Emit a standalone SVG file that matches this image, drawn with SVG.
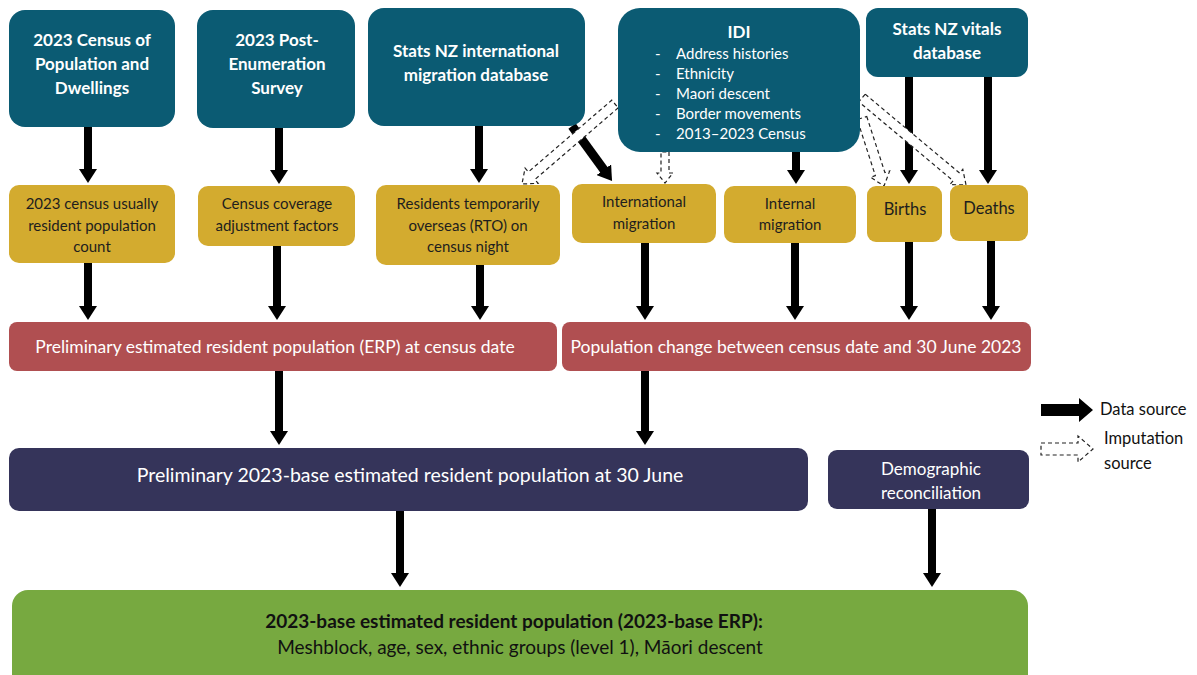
<svg xmlns="http://www.w3.org/2000/svg" width="1197" height="675" viewBox="0 0 1197 675">
<style>
.src{fill:#0b5b73}
.gold{fill:#d3ab2f}
.red{fill:#b04f51}
.navy{fill:#35345a}
.green{fill:#77a940}
text{font-family:Lato,"Liberation Sans",sans-serif}
.tw{fill:#ffffff;font-weight:bold;font-size:17px;text-anchor:middle}
.tl{fill:#ffffff;font-size:15px}
.td{fill:#1e1e1e;font-size:15px;text-anchor:middle}
.tr{fill:#ffffff;font-size:17.5px;text-anchor:middle}
.arr{stroke:#000;stroke-width:8;fill:none;marker-end:url(#ah)}
.imp{fill:#ffffff;stroke:#222;stroke-width:1.2;stroke-dasharray:4 3}
.lg{font-size:16.5px;fill:#111}
</style>
<defs>
<marker id="ah" viewBox="0 0 14 18" markerWidth="14" markerHeight="18" markerUnits="userSpaceOnUse" refX="1" refY="9" orient="auto">
<path d="M0,0 L14,9 L0,18 z" fill="#000"/>
</marker>
</defs>
<rect width="1197" height="675" fill="#ffffff"/>

<g id="connectors">
<path class="arr" d="M88,127 V170"/>
<path class="arr" d="M279,128 V171"/>
<path class="arr" d="M479,126 V170"/>
<path class="arr" d="M572,126 L604.4,170.5" style="stroke-width:9"/>
<path class="arr" d="M796,152 V171"/>
<path class="arr" d="M909,77 V171"/>
<path class="arr" d="M988,77 V171"/>
<path class="arr" d="M88,263 V307"/>
<path class="arr" d="M277,246 V307"/>
<path class="arr" d="M480,265 V307"/>
<path class="arr" d="M645,243 V307"/>
<path class="arr" d="M795,243 V307"/>
<path class="arr" d="M909,242 V307"/>
<path class="arr" d="M991,241 V307"/>
<path class="arr" d="M279,371 V432"/>
<path class="arr" d="M645,371 V432"/>
<path class="arr" d="M400,511 V574"/>
<path class="arr" d="M932,509 V574"/>
<polygon class="imp" transform="translate(615,104) rotate(139.3)" points="0,-5 110,-5 110,-10 122.7,0 110,10 110,5 0,5"/>
<polygon class="imp" transform="translate(665,152) rotate(90)" points="0,-4 21,-4 21,-8 31,0 21,8 21,4 0,4"/>
<polygon class="imp" transform="translate(862,118) rotate(72.1)" points="0,-5 59,-5 59,-10 71.5,0 59,10 59,5 0,5"/>
<polygon class="imp" transform="translate(862,98) rotate(39.9)" points="0,-5 123,-5 123,-10 135.6,0 123,10 123,5 0,5"/>
</g>

<g id="census">
<rect class="src" x="9" y="10" width="166" height="117" rx="16"/>
<text class="tw" x="92" y="46">2023 Census of</text>
<text class="tw" x="92" y="70">Population and</text>
<text class="tw" x="92" y="94">Dwellings</text>
</g>
<g id="pes">
<rect class="src" x="197" y="10" width="158" height="118" rx="16"/>
<text class="tw" x="277" y="46">2023 Post-</text>
<text class="tw" x="277" y="70">Enumeration</text>
<text class="tw" x="277" y="94">Survey</text>
</g>
<g id="intmigdb">
<rect class="src" x="368" y="8" width="217" height="118" rx="16"/>
<text class="tw" x="476" y="57">Stats NZ international</text>
<text class="tw" x="476" y="81">migration database</text>
</g>
<g id="idi">
<rect class="src" x="618" y="8" width="242" height="144" rx="22"/>
<text class="tw" x="739" y="38">IDI</text>
<text class="tl" x="655" y="59">-</text><text class="tl" x="676" y="59">Address histories</text>
<text class="tl" x="655" y="79">-</text><text class="tl" x="676" y="79">Ethnicity</text>
<text class="tl" x="655" y="99">-</text><text class="tl" x="676" y="99">Maori descent</text>
<text class="tl" x="655" y="119">-</text><text class="tl" x="676" y="119">Border movements</text>
<text class="tl" x="655" y="139">-</text><text class="tl" x="676" y="139">2013–2023 Census</text>
</g>
<g id="vitals">
<rect class="src" x="866" y="8" width="162" height="69" rx="12"/>
<text class="tw" x="947" y="35">Stats NZ vitals</text>
<text class="tw" x="947" y="59">database</text>
</g>

<g id="urcount">
<rect class="gold" x="9" y="185" width="166" height="78" rx="10"/>
<text class="td" x="92" y="209">2023 census usually</text>
<text class="td" x="92" y="231">resident population</text>
<text class="td" x="92" y="252">count</text>
</g>
<g id="coverage">
<rect class="gold" x="198" y="186" width="157" height="60" rx="10"/>
<text class="td" x="277" y="209">Census coverage</text>
<text class="td" x="277" y="231">adjustment factors</text>
</g>
<g id="rto">
<rect class="gold" x="376" y="185" width="184" height="80" rx="10"/>
<text class="td" x="468" y="209">Residents temporarily</text>
<text class="td" x="468" y="231">overseas (RTO) on</text>
<text class="td" x="468" y="252">census night</text>
</g>
<g id="intmig">
<rect class="gold" x="572" y="184" width="144" height="59" rx="10"/>
<text class="td" x="644" y="207">International</text>
<text class="td" x="644" y="229">migration</text>
</g>
<g id="internal">
<rect class="gold" x="724" y="186" width="132" height="57" rx="10"/>
<text class="td" x="790" y="209">Internal</text>
<text class="td" x="790" y="230">migration</text>
</g>
<g id="births">
<rect class="gold" x="867" y="186" width="75" height="56" rx="9"/>
<text class="td" x="905" y="215" style="font-size:16.5px">Births</text>
</g>
<g id="deaths">
<rect class="gold" x="950" y="185" width="78" height="56" rx="9"/>
<text class="td" x="989" y="214" style="font-size:16.5px">Deaths</text>
</g>

<g id="prelimerp">
<rect class="red" x="9" y="322" width="548" height="49" rx="8"/>
<text class="tr" x="275" y="353">Preliminary estimated resident population (ERP) at census date</text>
</g>
<g id="popchange">
<rect class="red" x="562" y="322" width="469" height="49" rx="8"/>
<text class="tr" x="796" y="353">Population change between census date and 30 June 2023</text>
</g>

<g id="prelim2023">
<rect class="navy" x="9" y="448" width="799" height="63" rx="10"/>
<text class="tr" x="410" y="482" style="font-size:19.5px">Preliminary 2023-base estimated resident population at 30 June</text>
</g>
<g id="demrec">
<rect class="navy" x="828" y="450" width="201" height="59" rx="9"/>
<text class="tr" x="931" y="475" style="font-size:17px">Demographic</text>
<text class="tr" x="931" y="499" style="font-size:17px">reconciliation</text>
</g>

<g id="final">
<rect class="green" x="12" y="590" width="1016" height="100" rx="16"/>
<text x="514" y="628" style="font-size:19px;font-weight:bold;fill:#111;text-anchor:middle">2023-base estimated resident population (2023-base ERP):</text>
<text x="520" y="654" style="font-size:19px;fill:#111;text-anchor:middle">Meshblock, age, sex, ethnic groups (level 1), Māori descent</text>
</g>

<g id="legend">
<polygon points="1041,404 1079,404 1079,398 1093,410 1079,422 1079,416 1041,416" fill="#000"/>
<text class="lg" x="1100" y="415">Data source</text>
<polygon class="imp" points="1041,443 1078,443 1078,436 1093,449 1078,462 1078,455 1041,455"/>
<text class="lg" x="1104" y="444">Imputation</text>
<text class="lg" x="1104" y="469">source</text>
</g>
</svg>
